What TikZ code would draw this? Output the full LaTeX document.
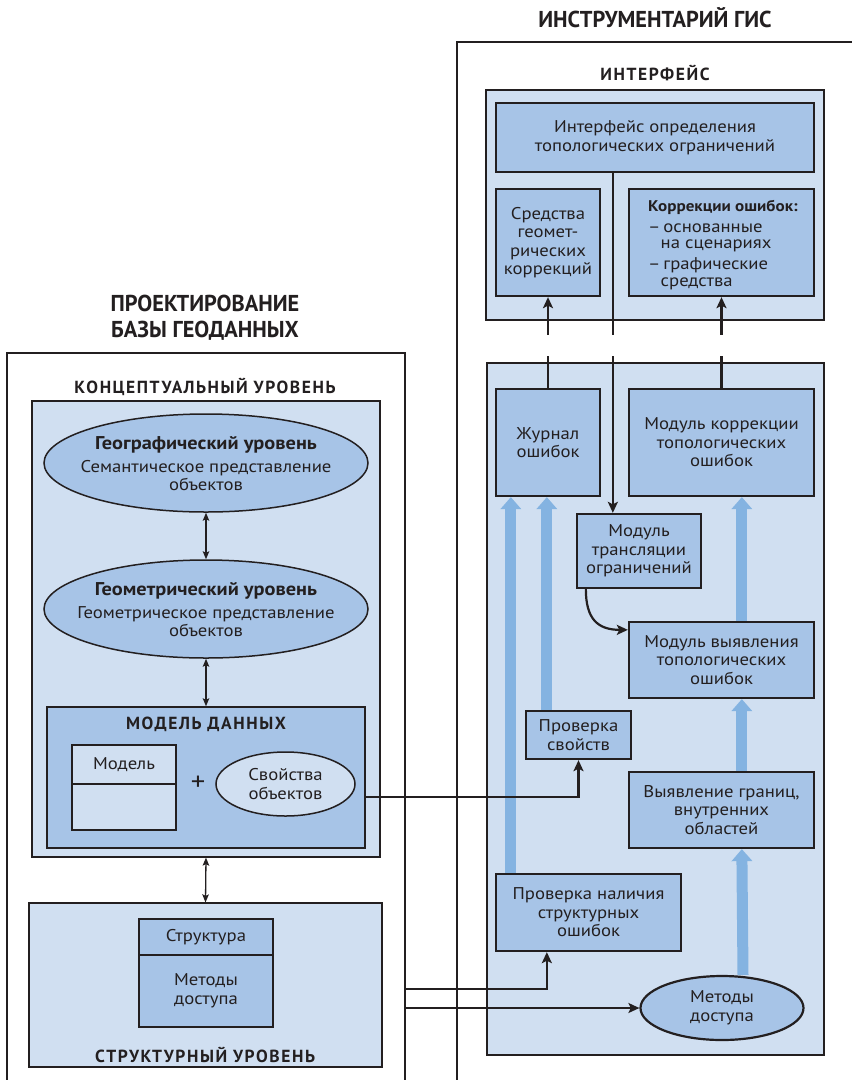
\documentclass[tikz,border=0pt]{standalone}
\usepackage{fontspec}
\setmainfont[FakeStretch=1.1]{PT Sans}
\newfontfamily\titlefont[FakeStretch=0.97]{PT Sans}
\newfontfamily\capsfont[LetterSpace=9]{PT Sans}
\usetikzlibrary{arrows.meta,calc,shapes.geometric}

\definecolor{paneblue}{HTML}{D0DFF1}
\definecolor{boxblue}{HTML}{A7C4E7}
\definecolor{flowblue}{HTML}{84B3E1}
\definecolor{ink}{HTML}{231F20}

\tikzset{
  area/.style n args={4}{at={({(#1+#3)/2},{(#2+#4)/2})},
    minimum width={(#3)-(#1)}, minimum height={(#4)-(#2)}},
  body/.style={text=ink, font=\fontsize{17}{18.5}\selectfont, align=center},
  title/.style={text=ink, font=\titlefont\bfseries\fontsize{23}{26}\selectfont, align=center, inner sep=0pt},
  caps/.style={text=ink, font=\capsfont\bfseries\fontsize{17.5}{19}\selectfont, inner sep=0pt},
  frame/.style={draw=ink, line width=1.3pt},
  pane/.style={draw=ink, line width=1.2pt, fill=paneblue, inner sep=0pt},
  box/.style={body, draw=ink, line width=2.3pt, fill=boxblue, inner sep=0pt},
  thinbox/.style={body, draw=ink, line width=1.5pt, inner sep=0pt},
  oval/.style={ellipse, draw=ink, line width=1.5pt, fill=boxblue, inner sep=0pt},
  ovaltext/.style={body, inner sep=0pt},
  conn/.style={draw=ink, line width=2.2pt, -{Stealth[length=11pt 0 0, width=10pt 0 0, inset=2.5pt 0 0]}},
  twoway/.style={draw=ink, line width=1.3pt, {Stealth[length=8pt 0 0, width=6.5pt 0 0, inset=1.5pt 0 0]}-{Stealth[length=8pt 0 0, width=6.5pt 0 0, inset=1.5pt 0 0]}},
  flow/.style={draw=flowblue, line width=11pt, -{Triangle[length=12pt 0 0, width=21pt 0 0, line width=0pt 0 0]}},
}
\newcommand\headline[1]{\textbf{\fontsize{18.5}{20}\selectfont #1}}

\begin{document}
\begin{tikzpicture}[x=1pt, y=-1pt]
\useasboundingbox (0,0) rectangle (852,1080);

% ---------- headings and outer frames ----------
\node[title] (tgis) at (655,18) {ИНСТРУМЕНТАРИЙ ГИС};
\node[title] (tdb) at (205,318) {ПРОЕКТИРОВАНИЕ\\БАЗЫ ГЕОДАННЫХ};
\draw[frame] (7,1080) -- (7,353) -- (405,353) -- (405,1080);
\draw[frame] (457,1080) -- (457,42) -- (852,42);

% ---------- GIS toolkit: interface ----------
\node[caps] (tif) at (655,73) {ИНТЕРФЕЙС};
\node[pane, area={486}{90}{824}{320}] (ifp) {};
\node[box, area={496}{103}{814}{172}] (itop) {Интерфейс определения\\топологических ограничений};
\node[box, area={496}{189}{600}{296}] (igeo) {Средства\\геомет-\\рических\\коррекций};
\node[box, area={629}{189}{814}{296}] (icorr) {};
\node[body, align=left, anchor=north west, inner sep=0pt,
      font=\fontsize{17}{16.5}\selectfont] (icorrtxt) at (648,200)
  {{\bfseries\fontsize{15.5}{16.5}\selectfont Коррекции ошибок:}\\[4.5pt]
   –\,основанные\\\hspace*{12.5pt}на сценариях\\[4.5pt]
   –\,графические\\\hspace*{12.5pt}средства};

% ---------- GIS toolkit: processing modules ----------
\node[pane, area={487}{363}{824}{1055}] (lp) {};
\node[box, area={496}{389}{600}{496}] (log) {Журнал\\ошибок};
\node[box, area={629}{389}{814}{496}] (fix) {Модуль коррекции\\топологических\\ошибок};
\node[box, area={577}{514}{701}{588}] (trans) {Модуль\\трансляции\\ограничений};
\node[box, area={629}{622}{814}{698}] (detect) {Модуль выявления\\топологических\\ошибок};
\node[box, area={526}{711}{631}{759}] (props) {Проверка\\свойств};
\node[box, area={629}{772}{814}{848}] (bound) {Выявление границ,\\внутренних\\областей};
\node[box, area={496}{874}{681}{951}] (struct) {Проверка наличия\\структурных\\ошибок};
\node[oval, line width=2.2pt, minimum width=163, minimum height=64] (access) at (722,1008) {};
\node[ovaltext] (accesstxt) at (access.center) {Методы\\доступа};

% data flow (wide blue arrows)
\draw[flow] ($(struct.north west)+(16,0)$) -- ($(log.south west)+(16,0)$);
\draw[flow] ($(props.north west)+(22,0)$) -- ($(log.south west)+(52,0)$);
\draw[flow] ($(detect.north west)+(114,0)$) -- ($(fix.south west)+(114,0)$);
\draw[flow] ($(bound.north west)+(114,0)$) -- ($(detect.south west)+(114,0)$);
\draw[flow] ($(access.north)+(21,0)$) -- ($(bound.south west)+(114,0)$);

% control links
\draw[conn] ($(itop.south west)+(118,0)$) -- ($(trans.north west)+(37,0)$);
\draw[conn] (log.north) -- (igeo.south);
\draw[conn] (fix.north) -- (icorr.south);
\draw[conn] ($(trans.south west)+(10,0)$) .. controls +(0,30) and +(-30,0) .. ($(detect.north west)+(0,9)$);

% break between the interface and the modules
\fill[white] (525,335) rectangle (745,356);

% ---------- geodatabase design: conceptual level ----------
\node[caps] (tcl) at (205,387) {КОНЦЕПТУАЛЬНЫЙ УРОВЕНЬ};
\node[pane, area={32}{401}{380}{857}] (cp) {};
\node[oval, minimum width=324, minimum height=98] (geo) at (206,463) {};
\node[ovaltext] (geotxt) at (206,464)
  {\headline{Географический уровень}\\[4pt]Семантическое представление\\объектов};
\node[oval, minimum width=324, minimum height=98] (geom) at (206,609) {};
\node[ovaltext] (geomtxt) at (206,610)
  {\headline{Геометрический уровень}\\[4pt]Геометрическое представление\\объектов};
\node[thinbox, fill=boxblue, area={47}{707}{365}{848}] (md) {};
\node[caps] (tmd) at (206,724) {МОДЕЛЬ ДАННЫХ};
\node[thinbox, fill=paneblue, area={72}{745}{176}{784}] (mtop) {Модель};
\node[thinbox, fill=paneblue, area={72}{784}{176}{830}] (mbot) {};
\node[body, inner sep=0pt, font=\fontsize{26}{26}\selectfont] (plus) at (198,783) {+};
\node[oval, fill=paneblue, minimum width=139, minimum height=64] (feat) at (285.5,784) {};
\node[ovaltext] (feattxt) at (feat.center) {Свойства\\объектов};

\draw[twoway] (geo.south) -- (geom.north);
\draw[twoway] (geom.south) -- (md.north);

% ---------- geodatabase design: structural level ----------
\node[pane, area={29}{903}{382}{1067}] (sp) {};
\node[thinbox, fill=boxblue, area={139}{919}{273}{955}] (stt) {Структура};
\node[thinbox, fill=boxblue, area={139}{955}{273}{1027}] (stb) {Методы\\доступа};
\node[caps] (tsl) at (205,1055) {СТРУКТУРНЫЙ УРОВЕНЬ};

\draw[twoway] (cp.south) -- (sp.north);

% ---------- links between the two parts ----------
\coordinate (s1) at (405,989);
\coordinate (s2) at (405,1008);
\draw[conn] ($(md.east)+(0,19.5)$) -| (props.south);
\draw[conn] (s1) -| ($(struct.south west)+(52,0)$);
\draw[conn] (s2) -- (access.west);
\end{tikzpicture}
\end{document}
